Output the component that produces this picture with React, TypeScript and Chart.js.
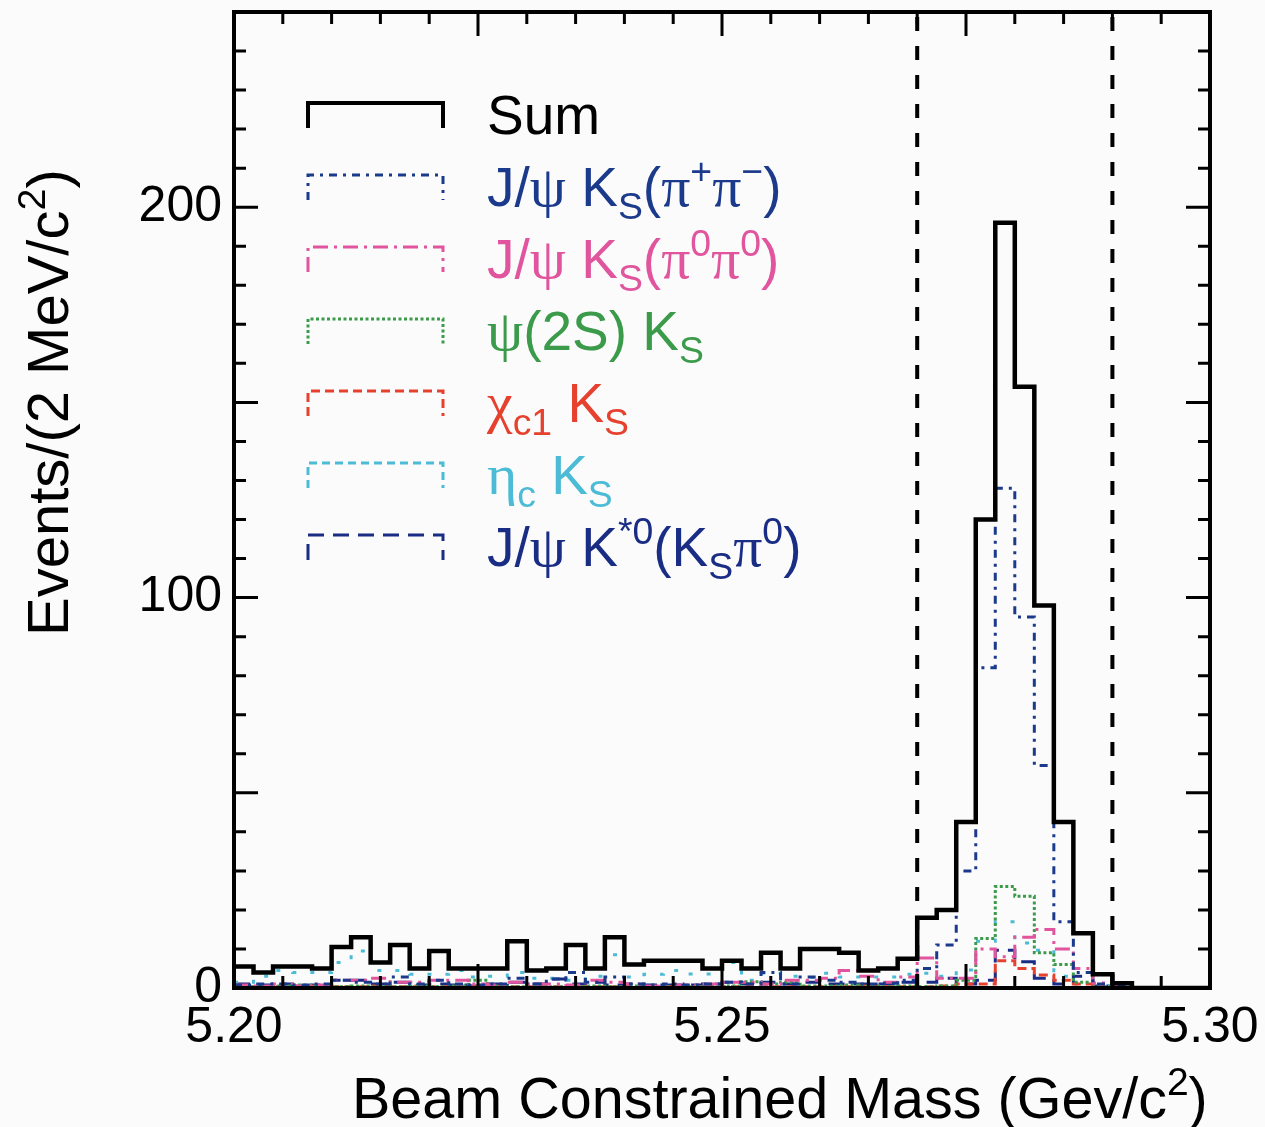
import React, { useEffect, useRef } from 'react';
import { Chart, registerables } from 'chart.js';

Chart.register(...registerables);

// ---- axis ranges / binning ----
const X_MIN = 5.2;
const X_MAX = 5.3;
const BIN_WIDTH = 0.002;
const Y_MIN = 0;
const Y_MAX = 250;
const xTickLabels = [5.2, 5.25, 5.3];
const yTickLabels = [0, 100, 200];
const cutLines = [5.27, 5.29];

// ---- histogram contents (50 bins of 2 MeV from 5.200 to 5.300) ----
const sumValues = [
  5.5, 4, 5.5, 5.5, 5, 10.5, 13, 6.5, 11, 5,
  9.5, 5, 5, 5, 12, 4.5, 5, 11, 5, 13,
  6, 7, 7, 7, 5, 7, 5, 9, 5, 10,
  10, 9, 4.5, 5, 7.5, 18, 20, 42.5, 120, 196,
  154, 98, 42.5, 14, 3.5, 1.2, 0, 0, 0, 0,
];
const jpsiKsPipiValues = [
  0.8, 1, 1, 0.8, 1, 2, 1.5, 1, 2.8, 1,
  2, 1, 0.8, 1, 2.5, 1, 2.3, 4, 1.5, 2.8,
  1, 0.8, 1, 0.8, 1, 1.5, 1, 4, 1, 2.8,
  2, 1.5, 1, 1.2, 2, 5, 11, 30, 82, 128,
  95, 57, 17, 4, 1, 0.4, 0, 0, 0, 0,
];
const jpsiKsPi0Pi0Values = [
  0.8, 0.5, 1, 0.5, 0.8, 2, 2, 2.5, 1.5, 1.5,
  2, 2, 1, 0.8, 1.5, 1, 1, 0.8, 2, 1.5,
  1, 0.5, 0.8, 0.8, 1, 1.5, 1.5, 1, 2, 2,
  2.5, 4.5, 3, 1.5, 2.8, 7.7, 2.5, 2.5, 10, 8,
  13, 15, 10, 5, 1.3, 0.5, 0, 0, 0, 0,
];
const psi2sKsValues = [
  0.3, 0.3, 0.5, 0.8, 0.5, 0.3, 0.5, 0.3, 0.3, 0.5,
  0.3, 0.5, 2, 0.5, 0.3, 0.3, 0.3, 0.3, 0.5, 0.3,
  0.5, 0.3, 0.3, 0.3, 0.3, 0.5, 1.6, 1, 1.5, 0.5,
  0.5, 0.8, 0.5, 0.3, 0.5, 0.3, 0.5, 2, 12.7, 26,
  23.5, 9, 6, 1.5, 0.3, 0, 0, 0, 0, 0,
];
const chic1KsValues = [
  0.3, 0.3, 0.3, 0.5, 0.3, 0.3, 0.3, 0.5, 0.3, 0.3,
  0.3, 0.3, 0.3, 0.3, 0.3, 0.3, 0.3, 0.3, 0.3, 0.3,
  0.3, 0.3, 0.3, 0.3, 0.8, 0.3, 0.3, 0.3, 0.3, 0.3,
  0.3, 0.3, 0.5, 0.3, 0.3, 0.3, 0.5, 1, 1, 7,
  5, 3.3, 2, 1, 0.3, 0, 0, 0, 0, 0,
];
const etacKsValues = [
  1.5, 3, 4.5, 4, 4, 6.5, 9.5, 4.5, 4.5, 3.5,
  3.5, 4.5, 2.8, 3, 4, 2.5, 2.5, 2, 3, 8.5,
  2.8, 3.5, 4.5, 3.6, 3.6, 6.5, 2, 3.8, 3, 2.7,
  3.8, 2.8, 2.8, 2.8, 3.5, 3.8, 3, 4.6, 12, 17,
  11.5, 9.7, 3, 1, 0.5, 0.3, 0, 0, 0, 0,
];
const jpsiKstarValues = [
  1, 0.8, 1, 0.5, 0.8, 2, 2, 1, 1.5, 0.8,
  1, 0.8, 0.5, 1, 1.5, 1, 2.3, 1, 1.5, 0.8,
  1, 0.8, 0.8, 0.8, 1, 1.5, 1, 1.5, 1, 1.5,
  1, 1, 1, 1, 1.5, 1.5, 2.5, 1, 2, 9.7,
  6.7, 2.5, 1, 3, 0.5, 0.2, 0, 0, 0, 0,
];

// ---- styles ----
type Seg = { t: string; k?: 'sub' | 'sup'; serif?: boolean };
const SANS = '"Liberation Sans", Arial, Helvetica, sans-serif';
const SERIF = '"Liberation Serif", "DejaVu Serif", serif';

const series = [
  {
    values: sumValues, color: '#000000', width: 4.5, dash: [] as number[], legendDash: [] as number[],
    label: [{ t: 'Sum' }] as Seg[],
  },
  {
    values: jpsiKsPipiValues, color: '#1b3a8c', width: 3, dash: [8, 6, 3, 6], legendDash: [8, 6, 3, 6],
    label: [{ t: 'J/' }, { t: 'ψ', serif: true }, { t: ' K' }, { t: 'S', k: 'sub' }, { t: '(' },
      { t: 'π', serif: true }, { t: '+', k: 'sup' }, { t: 'π', serif: true }, { t: '−', k: 'sup' }, { t: ')' }] as Seg[],
  },
  {
    values: jpsiKsPi0Pi0Values, color: '#e0559d', width: 3, dash: [15, 6, 3, 6], legendDash: [15, 6, 3, 6],
    label: [{ t: 'J/' }, { t: 'ψ', serif: true }, { t: ' K' }, { t: 'S', k: 'sub' }, { t: '(' },
      { t: 'π', serif: true }, { t: '0', k: 'sup' }, { t: 'π', serif: true }, { t: '0', k: 'sup' }, { t: ')' }] as Seg[],
  },
  {
    values: psi2sKsValues, color: '#3b9b4b', width: 3, dash: [3, 2.5], legendDash: [3, 2.5],
    label: [{ t: 'ψ', serif: true }, { t: '(2S) K' }, { t: 'S', k: 'sub' }] as Seg[],
  },
  {
    values: chic1KsValues, color: '#e6412e', width: 3, dash: [9, 5], legendDash: [9, 5],
    label: [{ t: 'χ', serif: true }, { t: 'c1', k: 'sub' }, { t: ' K' }, { t: 'S', k: 'sub' }] as Seg[],
  },
  {
    values: etacKsValues, color: '#4cbcd6', width: 3, dash: [4, 14], legendDash: [8, 5],
    label: [{ t: 'η', serif: true }, { t: 'c', k: 'sub' }, { t: ' K' }, { t: 'S', k: 'sub' }] as Seg[],
  },
  {
    values: jpsiKstarValues, color: '#1a2d85', width: 3, dash: [16, 9], legendDash: [16, 9],
    label: [{ t: 'J/' }, { t: 'ψ', serif: true }, { t: ' K' }, { t: '*0', k: 'sup' }, { t: '(K' },
      { t: 'S', k: 'sub' }, { t: 'π', serif: true }, { t: '0', k: 'sup' }, { t: ')' }] as Seg[],
  },
];

const yTitle: Seg[] = [{ t: 'Events/(2 MeV/c' }, { t: '2', k: 'sup' }, { t: ')' }];
const xTitle: Seg[] = [{ t: 'Beam Constrained Mass (Gev/c' }, { t: '2', k: 'sup' }, { t: ')' }];

function toSteps(values: number[]) {
  const pts = values.map((v, i) => ({ x: +(X_MIN + i * BIN_WIDTH).toFixed(4), y: v }));
  pts.push({ x: +(X_MIN + values.length * BIN_WIDTH).toFixed(4), y: values[values.length - 1] });
  return pts;
}

function drawRich(ctx: CanvasRenderingContext2D, segs: Seg[], x: number, y: number, size: number, color: string) {
  let cx = x;
  ctx.fillStyle = color;
  ctx.textBaseline = 'alphabetic';
  ctx.textAlign = 'left';
  for (const s of segs) {
    const fs = s.k ? size * 0.68 : s.serif ? size * 1.05 : size;
    ctx.font = `${fs}px ${s.serif ? SERIF : SANS}`;
    const dy = s.k === 'sub' ? size * 0.24 : s.k === 'sup' ? -size * 0.4 : 0;
    ctx.fillText(s.t, cx, y + dy);
    cx += ctx.measureText(s.t).width;
  }
}

const decorPlugin = {
  id: 'decor',
  beforeDraw(chart: any) {
    const ctx = chart.ctx as CanvasRenderingContext2D;
    ctx.save();
    ctx.fillStyle = '#fbfbfb';
    ctx.fillRect(0, 0, chart.width, chart.height);
    ctx.restore();
  },
  afterDatasetsDraw(chart: any) {
    const ctx = chart.ctx as CanvasRenderingContext2D;
    const { left, right, top, bottom } = chart.chartArea;
    const xs = chart.scales.x;
    const ys = chart.scales.y;
    ctx.save();
    ctx.strokeStyle = '#000';
    ctx.setLineDash([]);
    // ticks
    ctx.lineWidth = 3;
    ctx.beginPath();
    for (let i = 0; i <= 20; i++) {
      const v = X_MIN + i * 0.005;
      const px = xs.getPixelForValue(v);
      const len = i % 5 === 0 ? 24 : 12;
      ctx.moveTo(px, bottom); ctx.lineTo(px, bottom - len);
      ctx.moveTo(px, top); ctx.lineTo(px, top + len);
    }
    for (let i = 0; i <= 25; i++) {
      const v = Y_MIN + i * 10;
      const py = ys.getPixelForValue(v);
      const len = i % 5 === 0 ? 24 : 12;
      ctx.moveTo(left, py); ctx.lineTo(left + len, py);
      ctx.moveTo(right, py); ctx.lineTo(right - len, py);
    }
    ctx.stroke();
    // frame
    ctx.lineWidth = 4;
    ctx.strokeRect(left, top, right - left, bottom - top);
    ctx.restore();
  },
  afterDraw(chart: any) {
    const ctx = chart.ctx as CanvasRenderingContext2D;
    ctx.save();
    // legend
    series.forEach((s, i) => {
      const base = 134 + 72 * i;
      const t = base - 31;
      const b = base - 6;
      ctx.strokeStyle = s.color;
      ctx.lineWidth = s.width === 4.5 ? 4 : 3;
      ctx.setLineDash(s.legendDash);
      ctx.beginPath();
      ctx.moveTo(308, b); ctx.lineTo(308, t); ctx.lineTo(443, t); ctx.lineTo(443, b);
      ctx.stroke();
      ctx.setLineDash([]);
      drawRich(ctx, s.label, 487, base, 55, s.color);
    });
    // axis titles
    drawRich(ctx, xTitle, 352, 1118, 57.5, '#000');
    ctx.save();
    ctx.translate(68, 636);
    ctx.rotate(-Math.PI / 2);
    drawRich(ctx, yTitle, 0, 0, 58, '#000');
    ctx.restore();
    ctx.restore();
  },
};

export default function App() {
  const ref = useRef<HTMLCanvasElement | null>(null);
  useEffect(() => {
    if (!ref.current) return;
    const datasets: any[] = [];
    series.forEach((s, i) => {
      datasets.push({
        label: 'series' + i,
        data: toSteps(s.values),
        borderColor: s.color,
        borderWidth: s.width,
        borderDash: s.dash,
        stepped: true,
        pointRadius: 0,
        fill: false,
        tension: 0,
      });
      if (i === 0) {
        cutLines.forEach((c) => {
          datasets.push({
            label: 'cut ' + c,
            data: [{ x: c, y: Y_MIN }, { x: c, y: Y_MAX }],
            borderColor: '#000',
            borderWidth: 4,
            borderDash: [14, 15],
            pointRadius: 0,
            fill: false,
          });
        });
      }
    });
    const chart = new Chart(ref.current, {
      type: 'line',
      data: { datasets },
      plugins: [decorPlugin as any],
      options: {
        animation: false,
        responsive: false,
        devicePixelRatio: 1,
        layout: { padding: { top: 12, right: 55, left: 0, bottom: 0 } },
        plugins: { legend: { display: false }, tooltip: { enabled: false } },
        scales: {
          x: {
            type: 'linear',
            min: X_MIN,
            max: X_MAX,
            grid: { display: false, drawTicks: false },
            border: { display: false },
            afterBuildTicks: (axis: any) => { axis.ticks = xTickLabels.map((v) => ({ value: v })); },
            afterFit: (axis: any) => { axis.height = 139; axis.paddingLeft = 0; axis.paddingRight = 0; },
            ticks: {
              color: '#000',
              padding: 10,
              maxRotation: 0,
              autoSkip: false,
              font: { family: SANS, size: 50 },
              callback: (v: any) => Number(v).toFixed(2),
            },
          },
          y: {
            type: 'linear',
            min: Y_MIN,
            max: Y_MAX,
            grid: { display: false, drawTicks: false },
            border: { display: false },
            afterBuildTicks: (axis: any) => { axis.ticks = yTickLabels.map((v) => ({ value: v })); },
            afterFit: (axis: any) => { axis.width = 234; axis.paddingTop = 0; axis.paddingBottom = 0; },
            ticks: {
              color: '#000',
              padding: 12,
              autoSkip: false,
              font: { family: SANS, size: 50 },
              callback: (v: any) => String(v),
            },
          },
        },
      },
    });
    return () => chart.destroy();
  }, []);
  return (
    <div style={{ position: 'absolute', left: 0, top: 0, width: 1265, height: 1127 }}>
      <canvas ref={ref} width={1265} height={1127} style={{ display: 'block', width: 1265, height: 1127 }} />
    </div>
  );
}
